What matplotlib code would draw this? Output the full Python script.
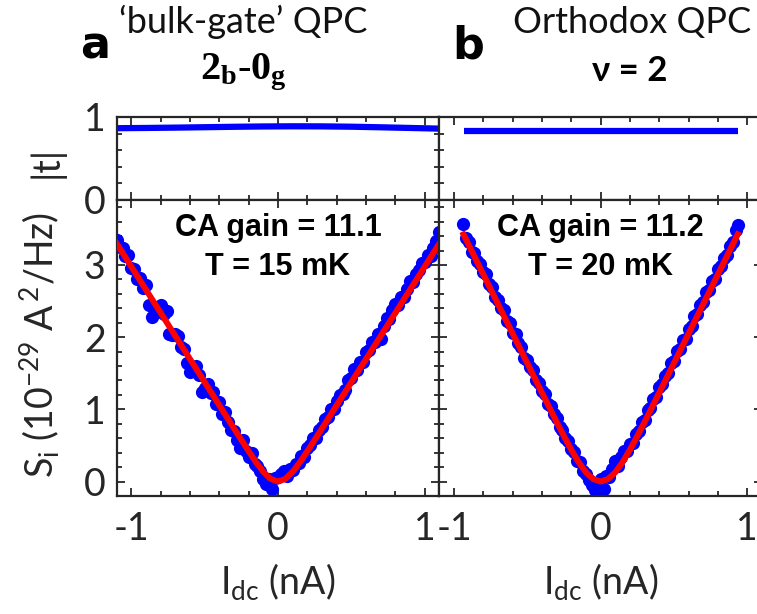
import numpy as np
import matplotlib
matplotlib.use('Agg')
import matplotlib.pyplot as plt
from matplotlib.ticker import MultipleLocator, FixedLocator, NullFormatter

plt.rcParams['font.family'] = ['Lato', 'DejaVu Sans']
plt.rcParams['axes.unicode_minus'] = False
plt.rcParams['mathtext.fontset'] = 'custom'
plt.rcParams['mathtext.rm'] = 'Lato'
plt.rcParams['mathtext.it'] = 'Lato:italic'
plt.rcParams['mathtext.bf'] = 'Liberation Serif:bold'

# ---------------- data ----------------
# panel a : 'bulk-gate' QPC, 2b-0g
Idc_a = np.linspace(-1.10, 1.10, 111)
Si_a = [3.35, 3.25, 3.23, 3.13, 3.14, 2.96, 2.94, 2.80, 2.82, 2.68,
        2.72, 2.45, 2.28, 2.34, 2.42, 2.44, 2.32, 2.36, 2.04, 2.03,
        2.05, 2.01, 1.87, 1.84, 1.64, 1.52, 1.58, 1.60, 1.48, 1.24,
        1.30, 1.35, 1.22, 1.24, 1.08, 1.10, 0.93, 0.97, 0.83, 0.72,
        0.70, 0.57, 0.46, 0.58, 0.43, 0.34, 0.39, 0.24, 0.22, 0.14,
        0.04, -0.03, 0.03, -0.10, 0.05, 0.06, 0.11, 0.15, 0.08, 0.17,
        0.16, 0.25, 0.26, 0.35, 0.34, 0.47, 0.51, 0.61, 0.60, 0.72,
        0.76, 0.86, 0.89, 1.00, 1.01, 1.11, 1.20, 1.21, 1.27, 1.41,
        1.43, 1.56, 1.54, 1.65, 1.65, 1.80, 1.82, 1.94, 1.93, 2.05,
        1.97, 2.16, 2.26, 2.25, 2.37, 2.46, 2.45, 2.56, 2.55, 2.67,
        2.78, 2.77, 2.88, 2.93, 3.03, 3.04, 3.14, 3.12, 3.23, 3.33,
        3.45]
fit_x_a = [-1.1, -1.0, -0.9, -0.8, -0.7, -0.6, -0.5, -0.4, -0.3, -0.25, -0.2,
           -0.15, -0.1, -0.05, 0.0, 0.05, 0.1, 0.15, 0.2, 0.25, 0.3, 0.4,
           0.5, 0.6, 0.7, 0.8, 0.9, 1.0, 1.1]
fit_y_a = [3.296, 2.976, 2.656, 2.336, 2.016, 1.696, 1.376, 1.056, 0.736, 0.577, 0.420,
           0.269, 0.135, 0.037, 0.0, 0.037, 0.135, 0.269, 0.420, 0.577, 0.736, 1.056,
           1.376, 1.696, 2.016, 2.336, 2.656, 2.976, 3.296]
t_x_a = [-1.1, -0.9, -0.7, -0.5, -0.3, -0.1, 0.1, 0.3, 0.5, 0.7, 0.9, 1.1]
t_a = [0.865, 0.868, 0.872, 0.877, 0.882, 0.886, 0.888, 0.887, 0.883, 0.876, 0.868, 0.860]

# panel b : orthodox QPC, nu = 2
Idc_b = np.linspace(-0.94, 0.94, 95)
Si_b = [3.57, 3.38, 3.32, 3.18, 3.17, 3.05, 3.01, 2.90, 2.87, 2.73,
        2.69, 2.55, 2.52, 2.41, 2.38, 2.23, 2.19, 2.06, 2.04, 1.92,
        1.86, 1.71, 1.69, 1.58, 1.54, 1.40, 1.36, 1.25, 1.21, 1.08,
        1.04, 0.93, 0.88, 0.76, 0.71, 0.61, 0.56, 0.45, 0.41, 0.29,
        0.27, 0.15, 0.11, 0.02, -0.05, -0.12, -0.08, 0.04, -0.10, 0.08,
        0.07, 0.18, 0.29, 0.22, 0.34, 0.42, 0.42, 0.52, 0.53, 0.66,
        0.70, 0.83, 0.85, 0.99, 1.02, 1.14, 1.17, 1.31, 1.35, 1.46,
        1.50, 1.64, 1.67, 1.81, 1.84, 1.96, 1.98, 2.12, 2.16, 2.29,
        2.32, 2.45, 2.49, 2.62, 2.65, 2.78, 2.81, 2.94, 2.98, 3.09,
        3.14, 3.26, 3.32, 3.48, 3.56]
fit_x_b = [-0.935, -0.9, -0.8, -0.7, -0.6, -0.5, -0.4, -0.3, -0.25, -0.2, -0.15,
           -0.1, -0.05, 0.0, 0.05, 0.1, 0.15, 0.2, 0.25, 0.3, 0.4, 0.5, 0.6,
           0.7, 0.8, 0.9, 0.935]
fit_y_b = [3.424, 3.280, 2.870, 2.460, 2.050, 1.640, 1.231, 0.826, 0.629, 0.441, 0.269,
           0.128, 0.034, 0.0, 0.034, 0.128, 0.269, 0.441, 0.629, 0.826, 1.231, 1.640, 2.050,
           2.460, 2.870, 3.280, 3.424]
t_x_b = [-0.93, -0.5, 0.0, 0.5, 0.94]
t_b = [0.83, 0.83, 0.83, 0.83, 0.83]

xticks = [-1, 0, 1]
si_ticks = [0, 1, 2, 3]
t_ticks = [0, 1]

BLUE = '#0000ff'
RED = '#ff0000'
SPINE = '#262626'

W, H = 757, 614
fig = plt.figure(figsize=(W / 100, H / 100), dpi=100)


def px_axes(x0, x1, y0, y1):
    return fig.add_axes([x0 / W, 1 - y1 / H, (x1 - x0) / W, (y1 - y0) / H])


def style(ax):
    for s in ax.spines.values():
        s.set_linewidth(1.6)
        s.set_color(SPINE)
    ax.tick_params(which='both', direction='in', top=True, right=True,
                   color=SPINE, width=1.3, labelsize=27, labelcolor='#262626')
    ax.tick_params(axis='x', which='both', pad=11)
    ax.tick_params(axis='y', which='both', pad=8)
    ax.tick_params(which='major', length=5.5)
    ax.tick_params(which='minor', length=3.5)
    ax.xaxis.set_major_locator(FixedLocator(xticks))
    ax.xaxis.set_minor_locator(MultipleLocator(0.2))


ax_at = px_axes(116.7, 439.3, 117, 200)
ax_ab = px_axes(116.7, 439.3, 200, 496)
ax_bt = px_axes(439.3, 761.9, 117, 200)
ax_bb = px_axes(439.3, 761.9, 200, 496)

for ax in (ax_at, ax_ab, ax_bt, ax_bb):
    style(ax)
    ax.set_xlim(-1.1, 1.1)

for ax in (ax_at, ax_bt):
    ax.set_ylim(0, 1)
    ax.yaxis.set_major_locator(FixedLocator(t_ticks))
    ax.yaxis.set_minor_locator(MultipleLocator(0.2))
    ax.xaxis.set_major_formatter(NullFormatter())

for ax in (ax_ab, ax_bb):
    ax.set_ylim(-0.2, 3.9)
    ax.yaxis.set_major_locator(FixedLocator(si_ticks))
    ax.yaxis.set_minor_locator(MultipleLocator(0.2))

for ax in (ax_bt, ax_bb):
    ax.yaxis.set_major_formatter(NullFormatter())

# top panels: |t|
ax_at.plot(t_x_a, t_a, color=BLUE, lw=4.5, solid_capstyle='butt')
ax_bt.plot(t_x_b, t_b, color=BLUE, lw=4.5, solid_capstyle='butt')

# bottom panels: noise
ax_ab.plot(Idc_a, Si_a, 'o', ms=9.5, color=BLUE, mec='none', zorder=2)
ax_ab.plot(fit_x_a, fit_y_a, color=RED, lw=4.3, zorder=3)
ax_bb.plot(Idc_b, Si_b, 'o', ms=9.5, color=BLUE, mec='none', zorder=2)
ax_bb.plot(fit_x_b, fit_y_b, color=RED, lw=4.3, zorder=3)

for ax in (ax_ab, ax_bb):
    ax.set_xlabel(r'I$_{\mathrm{dc}}$ (nA)', fontsize=27, color='#262626', labelpad=10)

for ax, g, T in ((ax_ab, 'CA gain = 11.1', 'T = 15 mK'), (ax_bb, 'CA gain = 11.2', 'T = 20 mK')):
    ax.text(0.5, 0.905, g, transform=ax.transAxes, ha='center', va='center',
            fontsize=22, fontweight='bold', family='Liberation Sans')
    ax.text(0.5, 0.772, T, transform=ax.transAxes, ha='center', va='center',
            fontsize=22, fontweight='bold', family='Liberation Sans')

# y labels
fig.text(46 / W, 1 - 162 / H, '|t|', rotation=90, ha='center', va='center', fontsize=27, color='#262626')
fig.text(40 / W, 1 - 345 / H, r'S$_{\mathrm{i}}$ (10$^{-29}$ A$^{\,2}$/Hz)', rotation=90,
         ha='center', va='center', fontsize=27, color='#262626')

# titles
fig.text(243 / W, 1 - 22 / H, '\u2018bulk-gate\u2019 QPC', ha='center', va='center', fontsize=26, color='#111111')
fig.text(243 / W, 1 - 72 / H, r'$\mathbf{2_b}$-$\mathbf{0_g}$', ha='center', va='center',
         fontsize=29, family='Liberation Serif', fontweight='bold')
fig.text(632 / W, 1 - 22 / H, 'Orthodox QPC', ha='center', va='center', fontsize=26, color='#111111')
fig.text(630 / W, 1 - 71 / H, '\u03bd = 2', ha='center', va='center', fontsize=25, fontweight='bold')
fig.text(95 / W, 1 - 46 / H, 'a', ha='center', va='center', fontsize=32, fontweight='heavy', family='DejaVu Sans')
fig.text(468 / W, 1 - 46 / H, 'b', ha='center', va='center', fontsize=32, fontweight='heavy', family='DejaVu Sans')

fig.savefig('out.png', dpi=100)
